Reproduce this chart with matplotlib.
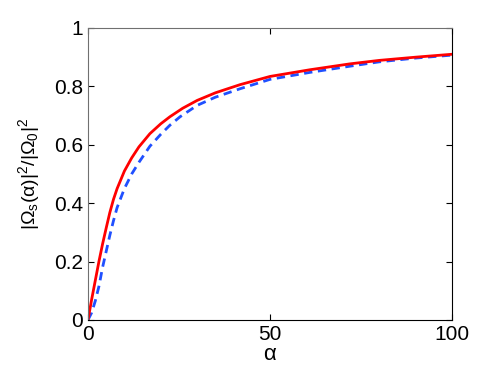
import matplotlib
matplotlib.use('Agg')
import matplotlib.pyplot as plt

plt.rcParams['font.family'] = ['Liberation Sans', 'DejaVu Sans']
plt.rcParams['mathtext.fontset'] = 'custom'
plt.rcParams['mathtext.rm'] = 'Liberation Sans'
plt.rcParams['mathtext.it'] = 'Liberation Sans'

# values
red_alpha = [0, 1, 2, 3, 4, 5, 6, 7, 8, 10, 12, 14, 17, 20, 22.5, 26, 30, 35,
             41.8, 50, 61, 71.9, 80, 90, 100]
red_vals = [0, 0.07, 0.135, 0.2, 0.26, 0.315, 0.368, 0.413, 0.45, 0.51, 0.555,
            0.593, 0.638, 0.672, 0.696, 0.725, 0.752, 0.778, 0.806, 0.834, 0.857,
            0.877, 0.889, 0.90, 0.91]
blue_alpha = [0, 1, 2, 3, 4, 5, 6, 7, 8, 10, 12, 14, 17, 20, 22.5, 25.3, 30, 35,
              41.8, 50, 61, 71.9, 80, 90, 100]
blue_vals = [0, 0.025, 0.065, 0.115, 0.18, 0.235, 0.29, 0.34, 0.385, 0.45, 0.50,
             0.54, 0.595, 0.636, 0.667, 0.696, 0.735, 0.763, 0.792, 0.824, 0.848,
             0.869, 0.884, 0.897, 0.907]

xticks = [0, 50, 100]
yticks = [0, 0.2, 0.4, 0.6, 0.8, 1]
ytick_labels = ['0', '0.2', '0.4', '0.6', '0.8', '1']

fig = plt.figure(figsize=(4.98, 3.75), dpi=100)
ax = fig.add_axes([0.1767, 0.1467, 0.731, 0.7787])

ax.plot(blue_alpha, blue_vals, '--', color='#2050ff', lw=2, dashes=(3, 2))
ax.plot(red_alpha, red_vals, '-', color='red', lw=2)

ax.set_xlim(0, 100)
ax.set_ylim(0, 1)
ax.set_xticks(xticks)
ax.set_yticks(yticks)
ax.set_yticklabels(ytick_labels)
ax.tick_params(direction='in', top=True, right=True, labelsize=15, length=4)
for side in ['left', 'top']:
    ax.spines[side].set_color('#707070')
ax.set_xlabel(r'$\alpha$', fontsize=16, labelpad=0)
ax.set_ylabel(r'$|\Omega_s(\alpha)|^2/|\Omega_0|^2$', fontsize=14, labelpad=9)

fig.savefig('out.png', dpi=100)
